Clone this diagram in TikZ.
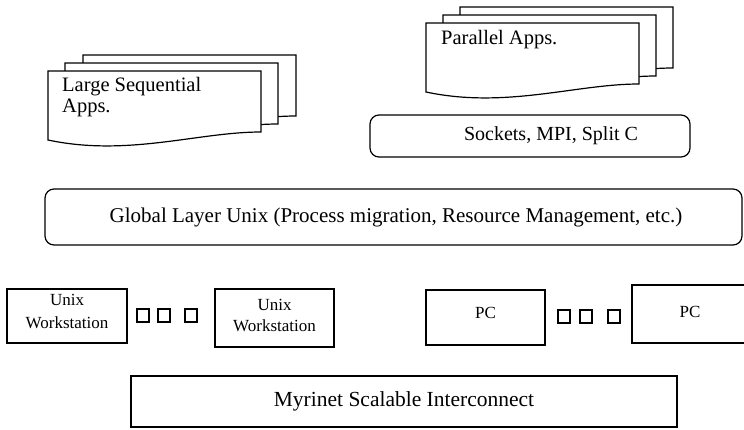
\documentclass[tikz,border=0pt]{standalone}
\usepackage{fontspec}
\setmainfont{Liberation Serif}
\tikzset{
  sheet/.style={draw=black, fill=white, line width=1.2pt, line join=miter},
  box/.style={draw=black, line width=1.2pt, inner sep=0pt},
  rbox/.style={draw=black, line width=1.2pt, rounded corners=9pt, inner sep=0pt},
  dotsq/.style={draw=black, line width=1.1pt, inner sep=0pt, minimum width=12pt, minimum height=13pt},
  lbl/.style={inner sep=0pt, align=center},
}
\newcommand{\docsheet}[2]{%
  \draw[sheet, shift={(#1,#2)}] (0,0) -- (213,0) -- (213,61)
    .. controls (150,61) and (80,86) .. (0,69) -- cycle;}
\begin{document}
\begin{tikzpicture}[x=1pt,y=-1pt]
\useasboundingbox (0,0) rectangle (744,429);
\clip (0,0) rectangle (744,429);
% Large sequential apps stack
\docsheet{83}{55}
\docsheet{65}{63}
\docsheet{48}{71}
\node[lbl, anchor=west, align=left, font=\fontsize{20.5}{21}\selectfont] (lsa) at (62,97) {Large Sequential\\Apps.};
% Parallel apps stack
\docsheet{460}{7}
\docsheet{443}{15}
\docsheet{426}{23}
\node[lbl, anchor=west, font=\fontsize{20.5}{21}\selectfont] (pa) at (441,40) {Parallel Apps.};
% Sockets box
\draw[rbox] (370,115) rectangle (690,157);
\node[lbl, font=\fontsize{20}{21}\selectfont] (sock) at (551,136) {Sockets, MPI, Split C};
% Global layer
\draw[rbox] (45,189) rectangle (742,245);
\node[lbl, font=\fontsize{21}{22}\selectfont] (glu) at (396,217) {Global Layer Unix (Process migration, Resource Management, etc.)};
% Unix workstations
\node[box, minimum width=120pt, minimum height=54pt] (uw1) at (67,316) {};
\node[lbl, font=\fontsize{17}{23}\selectfont] (uw1t) at (67,311) {Unix\\Workstation};
\node[dotsq] (s1) at (143,315.5) {};
\node[dotsq] (s2) at (164,315.5) {};
\node[dotsq] (s3) at (191,315.5) {};
\node[box, minimum width=119pt, minimum height=58pt] (uw2) at (274.5,318) {};
\node[lbl, font=\fontsize{17}{21}\selectfont] (uw2t) at (274.5,315.5) {Unix\\Workstation};
% PCs
\node[box, minimum width=119pt, minimum height=55pt] (pc1) at (485.5,317.5) {};
\node[lbl, font=\fontsize{17}{20}\selectfont] (pc1t) at (485.5,313) {PC};
\node[dotsq] (s4) at (564,316.5) {};
\node[dotsq] (s5) at (586,316.5) {};
\node[dotsq] (s6) at (614,316.5) {};
\node[box, minimum width=128pt, minimum height=58pt] (pc2) at (696,314) {};
\node[lbl, font=\fontsize{17}{20}\selectfont] (pc2t) at (690,312) {PC};
% Myrinet
\node[box, minimum width=546pt, minimum height=51pt] (myr) at (404,401.5) {};
\node[lbl, font=\fontsize{21.5}{22}\selectfont] (myrt) at (404,401.5) {Myrinet Scalable Interconnect};
\end{tikzpicture}
\end{document}
